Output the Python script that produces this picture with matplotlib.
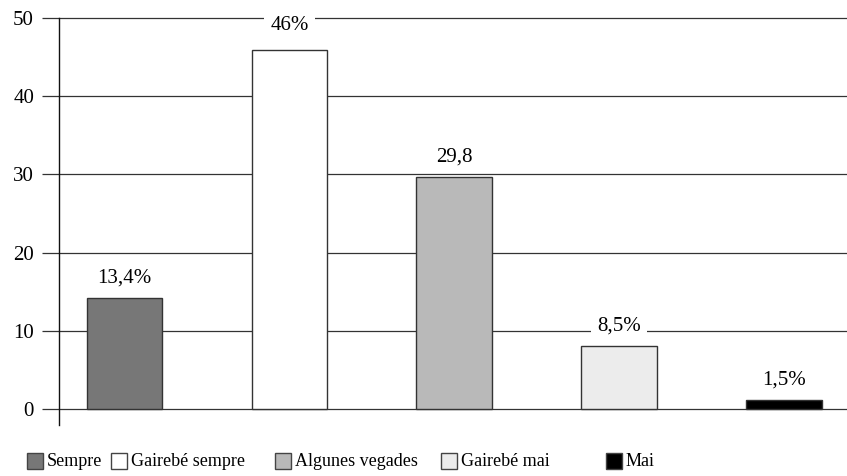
import matplotlib.pyplot as plt
from matplotlib.patches import Rectangle

# Data
categories = ["Sempre", "Gairebé sempre", "Algunes vegades", "Gairebé mai", "Mai"]
values = [14.2, 45.9, 29.7, 8.1, 1.2]
value_labels = ["13,4%", "46%", "29,8", "8,5%", "1,5%"]
colors = ["#777777", "#ffffff", "#b9b9b9", "#ececec", "#000000"]
y_ticks = [0, 10, 20, 30, 40, 50]

plt.rcParams["font.family"] = ["Liberation Serif", "DejaVu Serif"]

fig = plt.figure(figsize=(8.47, 4.76), dpi=100)
ax = fig.add_axes([59 / 847, 1 - 425 / 476, 1 - 59 / 847, (425 - 18) / 476])

x = list(range(len(categories)))
ax.bar(x, values, width=0.46, color=colors, edgecolor="#333333", linewidth=1, zorder=3)

ax.set_xlim(-0.397, 4.38)
ax.set_ylim(-2.05, 50)
ax.set_yticks(y_ticks)
ax.set_xticks([])
ax.tick_params(axis="y", length=12, width=0.9, color="#333333", pad=6, labelsize=15)

for t in y_ticks:
    ax.axhline(t, color="#333333", linewidth=0.9, zorder=1, clip_on=False)

for side in ["top", "right", "bottom"]:
    ax.spines[side].set_visible(False)
ax.spines["left"].set_color("#111111")
ax.spines["left"].set_linewidth(1)

# value labels with white background over the grid
for i, (v, lab) in enumerate(zip(values, value_labels)):
    off = 25 if v > 40 else 20
    ax.annotate(lab, (i, v), xytext=(0, off), textcoords="offset pixels",
                ha="center", va="center", fontsize=15, zorder=4,
                bbox=dict(boxstyle="square,pad=0.3", fc="white", ec="none"))

# legend
legend_x = [27, 111, 275, 441, 606]
for lx, cat, col in zip(legend_x, categories, colors):
    fig.add_artist(Rectangle((lx / 847, 1 - 469 / 476), 16 / 847, 16 / 476,
                             transform=fig.transFigure, fc=col, ec="#444444", lw=1))
    fig.text((lx + 20) / 847, 1 - 462 / 476, cat, ha="left", va="center", fontsize=13)

fig.savefig("out.png", dpi=100)
